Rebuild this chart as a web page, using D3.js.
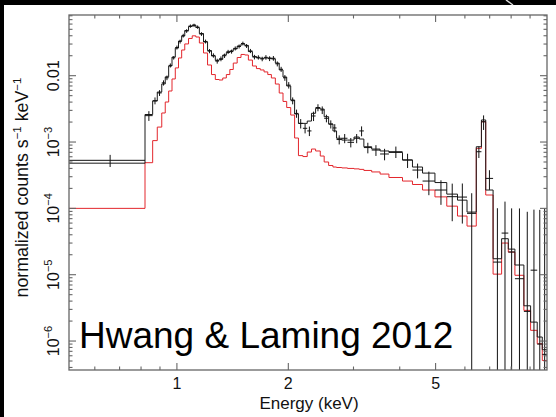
<!DOCTYPE html>
<html>
<head>
<meta charset="utf-8">
<script src="https://cdn.jsdelivr.net/npm/d3@7"></script>
<style>
  html, body { margin: 0; padding: 0; background: #fff; }
  svg { display: block; }
  text { font-family: "Liberation Sans", Arial, Helvetica, sans-serif; }
</style>
</head>
<body>
<svg id="chart" width="556" height="417"></svg>
<script>
// Channel bin edges (keV) shared by the data and both model curves
const binEdges = [0.5, 0.82, 0.86, 0.885, 0.91, 0.93, 0.95, 0.97, 0.99, 1.01, 1.03,
  1.05, 1.075, 1.10, 1.125, 1.15, 1.18, 1.21, 1.24, 1.27, 1.30, 1.33, 1.36, 1.39,
  1.42, 1.455, 1.49, 1.525, 1.56, 1.60, 1.64, 1.68, 1.72, 1.76, 1.80, 1.845, 1.89,
  1.935, 1.98, 2.03, 2.08, 2.13, 2.19, 2.25, 2.31, 2.37, 2.44, 2.50, 2.57, 2.64,
  2.70, 2.79, 2.89, 3.01, 3.11, 3.20, 3.36, 3.54, 3.74, 4.07, 4.33, 4.61, 4.98,
  5.36, 5.73, 6.08, 6.44, 6.65, 6.83, 7.15, 7.54, 7.86, 8.19, 8.66, 9.03, 9.41,
  9.71, 10.0];

// Total model (black histogram), counts s^-1 keV^-1 per bin
const totalModel = [0.00048, 0.0026, 0.00415, 0.00567, 0.0075, 0.0096, 0.0140,
  0.0191, 0.0261, 0.0333, 0.0396, 0.0479, 0.0551, 0.0580, 0.0532, 0.0432, 0.0322,
  0.0239, 0.0198, 0.0170, 0.0176, 0.0205, 0.0224, 0.0236, 0.0253, 0.0280, 0.0301,
  0.0286, 0.0231, 0.0195, 0.0185, 0.0183, 0.0185, 0.0185, 0.0179, 0.0155, 0.0122,
  0.00956, 0.00699, 0.0043, 0.00265, 0.00191, 0.00191, 0.00207, 0.00271, 0.00322,
  0.00314, 0.00241, 0.00187, 0.00147, 0.00114, 0.00107, 0.00107, 0.00119, 0.00111,
  0.000849, 0.000784, 0.000733, 0.000697, 0.000536, 0.00042, 0.00034, 0.000245,
  0.000164, 0.000133, 0.0000879, 0.000849, 0.00215, 0.000189, 0.0000174, 0.0000349,
  0.0000243, 0.000014, 0.0000034, 0.00000193, 0.00000115, 0.00000074];

// Single model component (red histogram)
const componentModel = [0.0001, 0.000488, 0.00105, 0.00168, 0.00274, 0.00401,
  0.00588, 0.00892, 0.0131, 0.0185, 0.0244, 0.0301, 0.0364, 0.0399, 0.0383, 0.0311,
  0.0220, 0.0145, 0.0104, 0.00876, 0.00861, 0.00923, 0.0104, 0.0124, 0.0155, 0.0188,
  0.0209, 0.0205, 0.0172, 0.0140, 0.0128, 0.0122, 0.0114, 0.0104, 0.00923, 0.00749,
  0.00548, 0.00409, 0.00331, 0.00255, 0.00115, 0.000624, 0.000604, 0.000706,
  0.000784, 0.000733, 0.000615, 0.000500, 0.000443, 0.000420, 0.000413, 0.000407,
  0.000400, 0.000394, 0.000387, 0.000373, 0.000354, 0.000329, 0.000292, 0.000258,
  0.000229, 0.000189, 0.000149, 0.000108, 0.0000766, 0.0000541, 0.000803, 0.00202,
  0.000159, 0.0000102, 0.000030, 0.0000219, 0.0000098, 0.0000029, 0.00000145,
  0.00000091, 0.00000051];

// Measured spectrum per bin
const dataValue = [0.00053, 0.0025, 0.0042, 0.0055, 0.0078, 0.0093, 0.0143, 0.0186,
  0.0266, 0.0327, 0.0402, 0.0472, 0.0560, 0.0574, 0.0540, 0.0425, 0.0328, 0.0235,
  0.0202, 0.0166, 0.0180, 0.0200, 0.0229, 0.0231, 0.0258, 0.0276, 0.0306, 0.0281,
  0.0236, 0.0191, 0.0189, 0.0179, 0.0189, 0.0181, 0.0183, 0.0151, 0.0125, 0.0093,
  0.0072, 0.0042, 0.0027, 0.00191, 0.00161, 0.00147, 0.00247, 0.00331, 0.00304,
  0.00228, 0.00186, 0.00163, 0.00109, 0.00114, 0.00099, 0.00114, 0.00147, 0.000825,
  0.000757, 0.00066, 0.000714, 0.000536, 0.000378, 0.000258, 0.000189, 0.00015,
  0.000148, 0.0000841, 0.000714, 0.00202, 0.000283, 0.0000155, 0.0000424, 0.000022,
  0.0000087, 0.0000028, 0.0000117, 0.0000009, 0.00000063];

// 1-sigma uncertainties of the measured spectrum
const dataError = [0.00011, 0.00042, 0.0005, 0.00055, 0.0007, 0.00074, 0.001, 0.0011,
  0.0018, 0.0022, 0.0026, 0.003, 0.0032, 0.0033, 0.0031, 0.0027, 0.0022, 0.0017,
  0.0015, 0.0014, 0.0015, 0.0015, 0.0016, 0.0016, 0.0018, 0.0019, 0.002, 0.0019,
  0.0017, 0.0015, 0.0014, 0.0014, 0.0015, 0.0015, 0.0015, 0.0013, 0.0011, 0.00092,
  0.0008, 0.0005, 0.00038, 0.00031, 0.00026, 0.00024, 0.0004, 0.0004, 0.0004,
  0.0003, 0.00026, 0.00023, 0.00017, 0.00018, 0.00016, 0.00018, 0.00025, 0.00015,
  0.00014, 0.00013, 0.00014, 0.00013, 0.000095, 0.0001, 0.000076, 0.000086, 0.000089,
  0.000085, 0.00014, 0.0005, 0.000093, 0.000085, 0.000084, 0.000078, 0.000091,
  0.000086, 0.000084, 0.000094, 0.000099];

// Axis extents and labels
const energyRange = [0.511, 10];
const countRange = [3.66e-7, 0.0822];
const xLabeledTicks = [1, 2, 5];
const yLabels = [
  { v: 1e-6, base: "10", exp: "−6" },
  { v: 1e-5, base: "10", exp: "−5" },
  { v: 1e-4, base: "10", exp: "−4" },
  { v: 1e-3, base: "10", exp: "−3" },
  { v: 1e-2, base: "0.01", exp: "" }
];

const svg = d3.select("#chart");
const L = 69, R = 547, T = 15, B = 370;

const x = d3.scaleLog().domain(energyRange).range([L, R]);
const y = d3.scaleLog().domain(countRange).range([B, T]);

// slide edge (dark border strips)
svg.append("rect").attr("x", 0).attr("y", 0).attr("width", 556).attr("height", 5).attr("fill", "#000");
svg.append("rect").attr("x", 0).attr("y", 0).attr("width", 4).attr("height", 417).attr("fill", "#000");
svg.append("line").attr("x1", 506).attr("y1", 0).attr("x2", 513).attr("y2", 5)
  .attr("stroke", "#ddd").attr("stroke-width", 1.5);

svg.append("clipPath").attr("id", "plotClip")
  .append("rect").attr("x", L).attr("y", T).attr("width", R - L).attr("height", B - T);

const plot = svg.append("g").attr("clip-path", "url(#plotClip)");

function stepPoints(values) {
  const pts = values.map((v, i) => [binEdges[i], v]);
  pts.push([binEdges[values.length], values[values.length - 1]]);
  return pts;
}
const stepLine = d3.line()
  .x(d => x(d[0]))
  .y(d => y(d[1]))
  .curve(d3.curveStepAfter);

plot.append("path")
  .attr("d", stepLine(stepPoints(componentModel)))
  .attr("fill", "none").attr("stroke", "#e3262c").attr("stroke-width", 1);

plot.append("path")
  .attr("d", stepLine(stepPoints(totalModel)))
  .attr("fill", "none").attr("stroke", "#1a1a1a").attr("stroke-width", 1);

// data crosses: bin width horizontally, +/- error vertically
const bins = dataValue.map((v, i) => ({
  lo: binEdges[i], hi: binEdges[i + 1], v, err: dataError[i]
}));
const cross = plot.append("g").attr("stroke", "#111").attr("stroke-width", 1);
cross.selectAll("line.h").data(bins).join("line").attr("class", "h")
  .attr("x1", d => x(d.lo)).attr("x2", d => x(d.hi))
  .attr("y1", d => y(d.v)).attr("y2", d => y(d.v));
cross.selectAll("line.v").data(bins).join("line").attr("class", "v")
  .attr("x1", d => x((d.lo + d.hi) / 2)).attr("x2", d => x((d.lo + d.hi) / 2))
  .attr("y1", d => y(d.v + d.err))
  .attr("y2", d => (d.v - d.err > 0 ? y(d.v - d.err) : B + 10));

// frame
const axisColor = "#666";
svg.append("rect").attr("x", L).attr("y", T).attr("width", R - L).attr("height", B - T)
  .attr("fill", "none").attr("stroke", axisColor).attr("stroke-width", 1.3);

const tickG = svg.append("g").attr("stroke", axisColor).attr("stroke-width", 1.1);
const majorLen = 7, minorLen = 3.5;

x.ticks().forEach(t => {
  if (t <= energyRange[0] || t >= energyRange[1]) return;
  const len = xLabeledTicks.includes(t) ? majorLen : minorLen;
  const px = x(t);
  tickG.append("line").attr("x1", px).attr("x2", px).attr("y1", B).attr("y2", B - len);
  tickG.append("line").attr("x1", px).attr("x2", px).attr("y1", T).attr("y2", T + len);
});

y.ticks().forEach(t => {
  if (t <= countRange[0] || t >= countRange[1]) return;
  const mant = t / Math.pow(10, Math.floor(Math.log10(t) + 1e-9));
  const len = Math.abs(mant - 1) < 1e-6 ? majorLen : minorLen;
  const py = y(t);
  tickG.append("line").attr("x1", L).attr("x2", L + len).attr("y1", py).attr("y2", py);
  tickG.append("line").attr("x1", R).attr("x2", R - len).attr("y1", py).attr("y2", py);
});

// tick labels
svg.selectAll("text.xt").data(xLabeledTicks).join("text").attr("class", "xt")
  .attr("x", d => x(d)).attr("y", 388.5)
  .attr("text-anchor", "middle").attr("font-size", 16).attr("fill", "#111")
  .text(d => d);

yLabels.forEach(d => {
  const t = svg.append("text")
    .attr("transform", `translate(58.5,${y(d.v)}) rotate(-90)`)
    .attr("text-anchor", "middle").attr("font-size", 16).attr("fill", "#111");
  t.append("tspan").text(d.base);
  if (d.exp) t.append("tspan").attr("font-size", 11).attr("dy", -7).text(d.exp);
});

// axis titles
svg.append("text").attr("x", 309).attr("y", 408.5).attr("text-anchor", "middle")
  .attr("font-size", 17).attr("fill", "#111").text("Energy (keV)");

const yt = svg.append("text")
  .attr("transform", "translate(28,187.5) rotate(-90)")
  .attr("text-anchor", "middle").attr("font-size", 17.8).attr("fill", "#111");
yt.append("tspan").text("normalized counts s");
yt.append("tspan").attr("font-size", 11.5).attr("dy", -7).text("−1");
yt.append("tspan").attr("dy", 7).text(" keV");
yt.append("tspan").attr("font-size", 11.5).attr("dy", -7).text("−1");

// citation
svg.append("text").attr("x", 79).attr("y", 348)
  .attr("font-size", 37).attr("fill", "#000").text("Hwang & Laming 2012");
</script>
</body>
</html>
